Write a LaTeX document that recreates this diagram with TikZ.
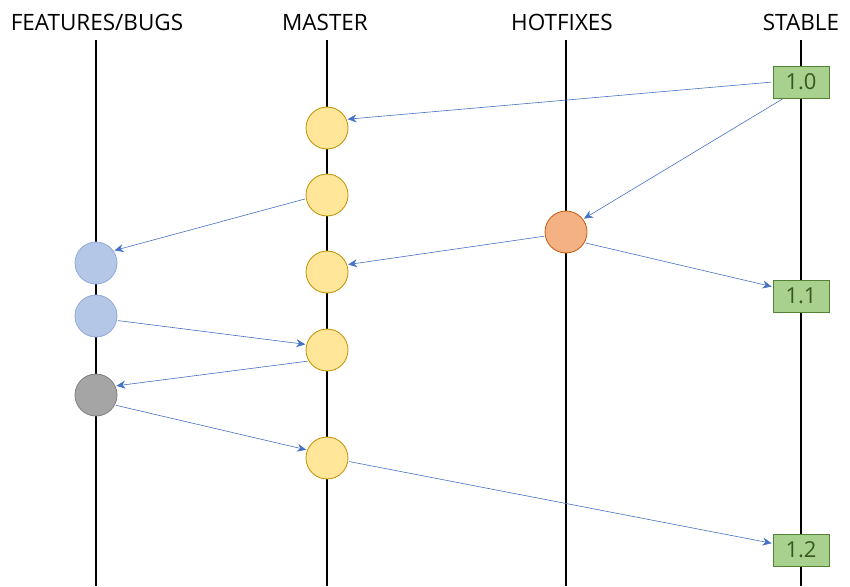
\documentclass[tikz,border=0pt]{standalone}
\usepackage{fontspec}
\setmainfont{Open Sans}
\usetikzlibrary{arrows.meta}
\definecolor{mfill}{HTML}{FFE699}
\definecolor{mline}{HTML}{BF9000}
\definecolor{hfill}{HTML}{F4B183}
\definecolor{hline}{HTML}{C55A11}
\definecolor{ffill}{HTML}{B4C7E7}
\definecolor{fline}{HTML}{8FAADC}
\definecolor{gfill}{HTML}{A5A5A5}
\definecolor{gline}{HTML}{7F7F7F}
\definecolor{sfill}{HTML}{A9D18E}
\definecolor{sline}{HTML}{538135}
\definecolor{stext}{HTML}{385723}
\definecolor{link}{HTML}{4472C4}
\begin{document}
\begin{tikzpicture}[x=1pt, y=-1pt,
    commit/.style={circle, draw, line width=0.8pt, minimum size=42pt, inner sep=0pt},
    release/.style={rectangle, draw=sline, fill=sfill, line width=0.8pt, text=stext,
      minimum width=56pt, minimum height=32pt, inner sep=0pt, font=\fontsize{22}{22}\selectfont},
    branch/.style={font=\fontsize{22.5}{22.5}\selectfont},
    merge/.style={draw=link, line width=0.6pt, -{Stealth[length=9pt, width=8pt]},
      shorten >=1pt, shorten <=1pt}]
      \useasboundingbox (0,0) rectangle (850,586);
      % branch heads
      \node[branch] (lfeat) at (97,22){FEATURES/BUGS};
      \node[branch] (lmast) at (325,22){MASTER};
      \node[branch] (lhot) at (562,22){HOTFIXES};
      \node[branch] (lstab) at (801,22){STABLE};
      \coordinate (efeat) at (96,586);
      \coordinate (emast) at (327,586);
      \coordinate (ehot) at (566,586);
      \coordinate (estab) at (801,586);
      \draw[line width=1.6pt](96,40) -- (efeat);
      \draw[line width=1.6pt](327,40) -- (emast);
      \draw[line width=1.6pt](566,40) -- (ehot);
      \draw[line width=1.6pt](801,40) -- (estab);
      % stable releases
      \node[release] (s10) at (801,82){1.0};
      \node[release] (s11) at (801,296){1.1};
      \node[release] (s12) at (801,550){1.2};
      % master commits
      \node[commit, draw=mline, fill=mfill] (m1) at (327,128){};
      \node[commit, draw=mline, fill=mfill] (m2) at (327,195){};
      \node[commit, draw=mline, fill=mfill] (m3) at (327,272){};
      \node[commit, draw=mline, fill=mfill] (m4) at (327,350){};
      \node[commit, draw=mline, fill=mfill] (m5) at (327,458){};
      % hotfix
      \node[commit, draw=hline, fill=hfill] (h1) at (566,232){};
      % features and bugs
      \node[commit, draw=fline, fill=ffill] (f1) at (96,263){};
      \node[commit, draw=fline, fill=ffill] (f2) at (96,316){};
      \node[commit, draw=gline, fill=gfill] (f3) at (96,395){};
      % merges
      \draw[merge](s10.west) -- (m1.24);
      \draw[merge](s10.223) -- (h1.37);
      \draw[merge](m2.190) -- (f1.35);
      \draw[merge](h1.191) -- (m3.20);
      \draw[merge](h1.-30) -- (s11.162);
      \draw[merge](f2.-12) -- (m4.165);
      \draw[merge](m4.211) -- (f3.25);
      \draw[merge](f3.-28) -- (m5.158);
      \draw[merge](m5.-9) -- (s12.167);
    \end{tikzpicture}
\end{document}
